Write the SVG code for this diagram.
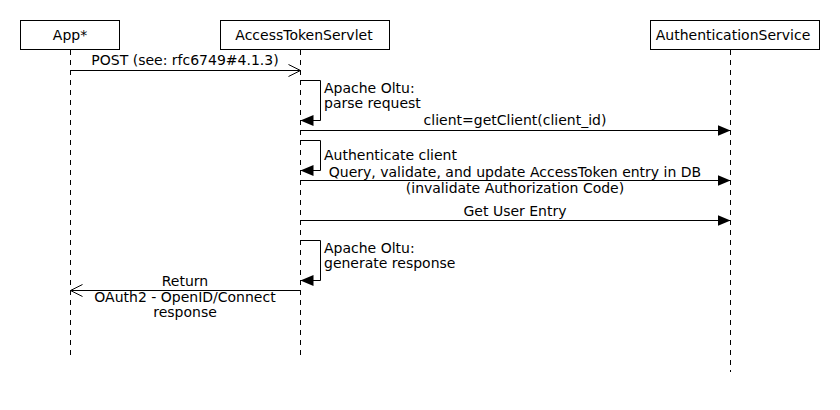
<svg xmlns="http://www.w3.org/2000/svg" width="840" height="410" viewBox="0 0 840 410">
<defs>
<style>
text{font-family:"DejaVu Sans","Liberation Sans",sans-serif;font-size:14px;fill:#000}
.box{fill:#fff;stroke:#000;stroke-width:1}
.life{stroke:#000;stroke-width:1;stroke-dasharray:5,5;fill:none}
.msg{stroke:#000;stroke-width:1;fill:none}
.c{text-anchor:middle}
</style>
<marker id="filled" viewBox="0 0 13 12" refX="13" refY="6" markerWidth="13" markerHeight="12" markerUnits="userSpaceOnUse" orient="auto">
<path d="M0,0.5 L13,6 L0,11.5 Z" fill="#000"/>
</marker>
<marker id="open" viewBox="0 0 14 14" refX="13" refY="7" markerWidth="14" markerHeight="14" markerUnits="userSpaceOnUse" orient="auto">
<path d="M1,1 L13,7 L1,13" fill="none" stroke="#000" stroke-width="1"/>
</marker>
</defs>
<rect width="840" height="410" fill="#fff"/>
<g id="lifelines">
<line class="life" x1="70.5" y1="50" x2="70.5" y2="358"/>
<line class="life" x1="300.5" y1="50" x2="300.5" y2="358"/>
<line class="life" x1="730.5" y1="50" x2="730.5" y2="372"/>
</g>
<g id="node-app">
<rect class="box" x="20.5" y="20.5" width="99" height="29"/>
<text class="c" x="70" y="40">App*</text>
</g>
<g id="node-servlet">
<rect class="box" x="220.5" y="20.5" width="169" height="29"/>
<text class="c" x="304" y="40">AccessTokenServlet</text>
</g>
<g id="node-authservice">
<rect class="box" x="650.5" y="20.5" width="169" height="29"/>
<text class="c" x="733" y="40">AuthenticationService</text>
</g>
<g id="connectors">
<line class="msg" x1="70.5" y1="70.5" x2="300.5" y2="70.5" marker-end="url(#open)"/>
<text class="c" x="185" y="65">POST (see: rfc6749#4.1.3)</text>

<polyline class="msg" points="300.5,80.5 320.5,80.5 320.5,120.5 300.5,120.5" marker-end="url(#filled)"/>
<text x="324" y="93">Apache Oltu:</text>
<text x="324" y="108">parse request</text>

<line class="msg" x1="300.5" y1="130.5" x2="730.5" y2="130.5" marker-end="url(#filled)"/>
<text class="c" x="515" y="125">client=getClient(client_id)</text>

<polyline class="msg" points="300.5,140.5 320.5,140.5 320.5,170.5 300.5,170.5" marker-end="url(#filled)"/>
<text x="324" y="160">Authenticate client</text>

<line class="msg" x1="300.5" y1="180.5" x2="730.5" y2="180.5" marker-end="url(#filled)"/>
<text class="c" x="515" y="177">Query, validate, and update AccessToken entry in DB</text>
<text class="c" x="515" y="193">(invalidate Authorization Code)</text>

<line class="msg" x1="300.5" y1="220.5" x2="730.5" y2="220.5" marker-end="url(#filled)"/>
<text class="c" x="515" y="216">Get User Entry</text>

<polyline class="msg" points="300.5,240.5 320.5,240.5 320.5,280.5 300.5,280.5" marker-end="url(#filled)"/>
<text x="324" y="253">Apache Oltu:</text>
<text x="324" y="268">generate response</text>

<line class="msg" x1="300.5" y1="290.5" x2="70.5" y2="290.5" marker-end="url(#open)"/>
<text class="c" x="185" y="286">Return</text>
<text class="c" x="185" y="302">OAuth2 - OpenID/Connect</text>
<text class="c" x="185" y="317">response</text>
</g>
</svg>
